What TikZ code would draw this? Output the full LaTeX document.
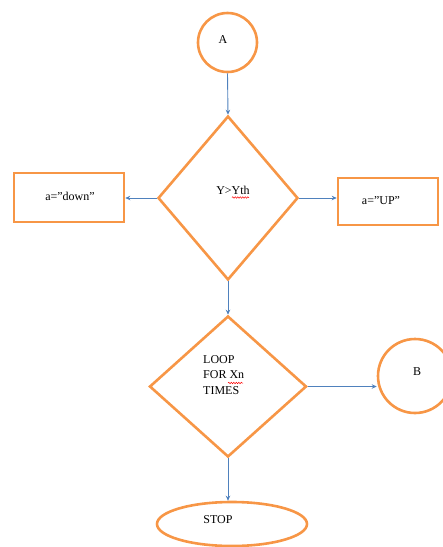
\documentclass[tikz,border=0pt]{standalone}
\usepackage{fontspec}
\setmainfont{Liberation Serif}
\usetikzlibrary{shapes.geometric,arrows.meta,decorations.pathmorphing}
\definecolor{offorange}{RGB}{247,150,70}
\definecolor{offblue}{RGB}{79,129,189}
\tikzset{
  shapeline/.style={draw=offorange, line width=2.6pt},
  circ/.style={shapeline, circle, inner sep=0pt},
  dia/.style={shapeline, diamond, inner sep=0pt},
  boxstyle/.style={shapeline, rectangle, inner sep=0pt},
  conn/.style={draw=offblue, line width=0.9pt, -{Stealth[length=5pt,width=4.5pt]}},
  lbl/.style={font=\fontsize{12}{15.5}\selectfont, inner sep=0pt},
  squig/.style={draw=red, line width=0.5pt, decorate, decoration={snake, amplitude=0.7pt, segment length=2.5pt}}
}
\begin{document}
\begin{tikzpicture}[x=1pt,y=-1pt]
\useasboundingbox (0,0) rectangle (443,547);
\clip (0,0) rectangle (443,547);
% shapes
\node[circ, minimum size=59pt] (A) at (227.5,42.5) {};
\node[dia, minimum width=140pt, minimum height=164pt] (d1) at (228,198) {};
\node[boxstyle, minimum width=110pt, minimum height=49pt] (down) at (69,197.5) {};
\node[boxstyle, minimum width=100pt, minimum height=47pt] (up) at (388,201.5) {};
\node[dia, minimum width=157pt, minimum height=141pt] (d2) at (228,386.5) {};
\node[circ, minimum size=74pt] (B) at (415,376) {};
\node[shapeline, ellipse, inner sep=0pt, minimum width=150pt, minimum height=44pt] (stop) at (232,524) {};
% texts
\node[lbl] (tA) at (223,40) {A};
\node[lbl] (tY) at (233,190) {Y>Yth};
\node[lbl] (tdown) at (70,196) {a=''down''};
\node[lbl] (tup) at (381,201) {a=''UP''};
\node[lbl, anchor=north west, align=left] (tloop) at (203,355) {LOOP\\FOR Xn\\TIMES};
\node[lbl] (tB) at (417,372) {B};
\node[lbl] (tstop) at (218,520) {STOP};
% spell-check marks
\draw[squig] ([shift={(-1,7.5)}]tY.center) -- ([shift={(16,7.5)}]tY.center);
\draw[squig] ([shift={(25,28)}]tloop.north west) -- ([shift={(40,28)}]tloop.north west);
% connectors
\draw[conn] (A.south) -- (d1.north);
\draw[conn] (d1.west) -- (d1.west -| down.east);
\draw[conn] (d1.east) -- (d1.east -| up.west);
\draw[conn] (d1.south) -- (d2.north);
\draw[conn] (d2.east) -- (d2.east -| B.west);
\draw[conn] (d2.south) -- (d2.south |- stop.north);
\end{tikzpicture}
\end{document}
